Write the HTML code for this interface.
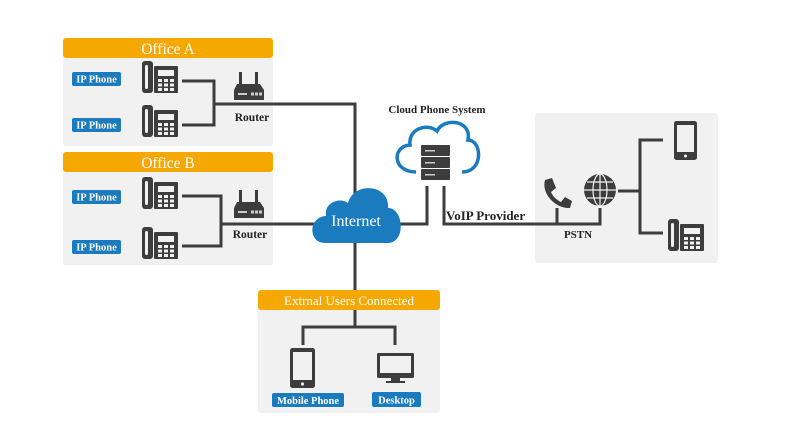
<!DOCTYPE html>
<html><head><meta charset="utf-8"><style>
body{margin:0;background:#fff}
svg{display:block}
text{font-family:"Liberation Serif",serif}
</style></head><body>
<svg width="788" height="443" viewBox="0 0 788 443" xmlns="http://www.w3.org/2000/svg">
<defs>
<g id="dp">
<rect x="0" y="0" width="11" height="32" rx="3" fill="#3d3d3d"/>
<rect x="3" y="4" width="3" height="24" rx="1.5" fill="#f1f1f1"/>
<rect x="12" y="5" width="24" height="27" rx="1" fill="#3d3d3d"/>
<rect x="16" y="9" width="16" height="6" fill="#f1f1f1"/>
<g fill="#f1f1f1">
<rect x="16" y="18" width="4" height="3"/><rect x="22" y="18" width="4" height="3"/><rect x="28" y="18" width="4" height="3"/>
<rect x="16" y="22.5" width="4" height="3"/><rect x="22" y="22.5" width="4" height="3"/><rect x="28" y="22.5" width="4" height="3"/>
<rect x="16" y="27" width="4" height="3"/><rect x="22" y="27" width="4" height="3"/><rect x="28" y="27" width="4" height="3"/>
</g>
</g>
<g id="rt">
<rect x="5" y="0" width="3" height="13" fill="#3d3d3d"/>
<rect x="21" y="0" width="3" height="13" fill="#3d3d3d"/>
<path d="M3 12 H26 L30 18 V28 H0 V18 Z" fill="#3d3d3d"/>
<rect x="4" y="21" width="9" height="2" fill="#ccc"/>
<rect x="17" y="20.5" width="3" height="3" fill="#ccc"/><rect x="21" y="20.5" width="3" height="3" fill="#ccc"/><rect x="25" y="20.5" width="3" height="3" fill="#ccc"/>
</g>
<g id="ipl">
<rect x="0" y="0" width="49" height="14" rx="2" fill="#1a7bbf"/>
<text x="24.5" y="10.5" font-size="10.5" font-weight="bold" fill="#fff" text-anchor="middle">IP Phone</text>
</g>
</defs>

<rect x="63" y="56" width="210" height="90" rx="3" fill="#f1f1f1"/>
<rect x="63" y="38" width="210" height="20" rx="3" fill="#f5a800"/>
<text x="168" y="54" font-size="15.5" fill="#fff" text-anchor="middle">Office A</text>
<rect x="63" y="170" width="210" height="95" rx="3" fill="#f1f1f1"/>
<rect x="63" y="152" width="210" height="20" rx="3" fill="#f5a800"/>
<text x="168" y="168" font-size="15.5" fill="#fff" text-anchor="middle">Office B</text>
<rect x="535" y="113" width="183" height="150" rx="3" fill="#f1f1f1"/>
<rect x="258" y="308" width="182" height="105" rx="3" fill="#f1f1f1"/>
<rect x="258" y="290" width="182" height="20" rx="3" fill="#f5a800"/>
<text x="349" y="305" font-size="13" fill="#fff" text-anchor="middle">Extrnal Users Connected</text>

<g stroke="#3d3d3d" stroke-width="3" fill="none">
<path d="M182 81 H214 V125 H182"/>
<path d="M214 104 H355 V290"/>
<path d="M182 196 H221 V246 H182"/>
<path d="M221 224 H320"/>
<path d="M398 224 H427 V186"/>
<path d="M444 186 V224 H600 V208"/>
<path d="M557 208 V224"/>
<path d="M618 191 H640"/>
<path d="M663 140 H640 V233 H663"/>
<path d="M355 310 V327 M303 345 V327 H395 V345"/>
</g>

<use href="#ipl" x="72" y="72"/><use href="#ipl" x="72" y="118"/>
<use href="#ipl" x="72" y="190"/><use href="#ipl" x="72" y="240"/>
<use href="#dp" x="142" y="61"/><use href="#dp" x="142" y="105"/>
<use href="#dp" x="142" y="177"/><use href="#dp" x="142" y="227"/>
<use href="#dp" x="668" y="219"/>

<use href="#rt" x="234" y="72"/><use href="#rt" x="234" y="190"/>
<text x="252" y="121" font-size="11.5" font-weight="bold" fill="#222" text-anchor="middle">Router</text>
<text x="250" y="238" font-size="11.5" font-weight="bold" fill="#222" text-anchor="middle">Router</text>

<path d="M325 243 C308 243 308 217 326 216 C324 202 340 197 348 203 C354 181 390 184 388 208 C404 208 406 243 388 243 Z" fill="#1a7bbf"/>
<text x="356" y="226" font-size="16" fill="#fff" text-anchor="middle">Internet</text>

<text x="437" y="113" font-size="11" font-weight="bold" fill="#222" text-anchor="middle">Cloud Phone System</text>
<path d="M416 172 C392 172 392 146 410 145 C408 128 428 123 437 131 C444 117 472 120 468 140 C482 140 484 172 462 172" fill="none" stroke="#1a7bbf" stroke-width="3.5"/>
<rect x="421" y="145" width="29" height="11" rx="1" fill="#3d3d3d"/>
<rect x="421" y="157" width="29" height="11" rx="1" fill="#3d3d3d"/>
<rect x="421" y="169" width="29" height="11" rx="1" fill="#3d3d3d"/>
<rect x="425" y="150" width="10" height="1.5" fill="#ccc"/><rect x="425" y="162" width="10" height="1.5" fill="#ccc"/><rect x="425" y="174" width="10" height="1.5" fill="#ccc"/>

<text x="446" y="220" font-size="13" font-weight="bold" fill="#222">VoIP Provider</text>
<text x="578" y="238" font-size="11" font-weight="bold" fill="#222" text-anchor="middle">PSTN</text>

<path d="M545 180 L552 178 L556 188 L551 192 C553 197 557 200 561 202 L565 197 L572 201 L570 208 C556 209 541 194 545 180 Z" fill="#3d3d3d"/>
<g>
<circle cx="600" cy="190" r="16" fill="#3d3d3d"/>
<g stroke="#f1f1f1" stroke-width="1.2" fill="none">
<ellipse cx="600" cy="190" rx="7" ry="16"/>
<line x1="600" y1="174" x2="600" y2="206"/>
<line x1="584" y1="190" x2="616" y2="190"/>
<line x1="587" y1="182" x2="613" y2="182"/>
<line x1="587" y1="198" x2="613" y2="198"/>
</g>
</g>
<rect x="674" y="121" width="23" height="39" rx="2.5" fill="#3d3d3d"/>
<rect x="677" y="125" width="17" height="27" fill="#f1f1f1"/>
<circle cx="685.5" cy="156" r="1.5" fill="#f1f1f1"/>

<rect x="290" y="348" width="25" height="40" rx="2.5" fill="#3d3d3d"/>
<rect x="293" y="352" width="19" height="28" fill="#f1f1f1"/>
<circle cx="302.5" cy="384" r="1.6" fill="#f1f1f1"/>
<rect x="377" y="353" width="37" height="25" rx="1.5" fill="#3d3d3d"/>
<rect x="380" y="356" width="31" height="17" fill="#f1f1f1"/>
<rect x="391" y="378" width="9" height="3" fill="#3d3d3d"/>
<rect x="386" y="381" width="19" height="2" fill="#3d3d3d"/>

<rect x="272" y="393" width="72" height="14" rx="2" fill="#1a7bbf"/>
<text x="308" y="404" font-size="10.5" font-weight="bold" fill="#fff" text-anchor="middle">Mobile Phone</text>
<rect x="372" y="392" width="49" height="15" rx="2" fill="#1a7bbf"/>
<text x="396.5" y="403.5" font-size="10.5" font-weight="bold" fill="#fff" text-anchor="middle">Desktop</text>
</svg>
</body></html>
